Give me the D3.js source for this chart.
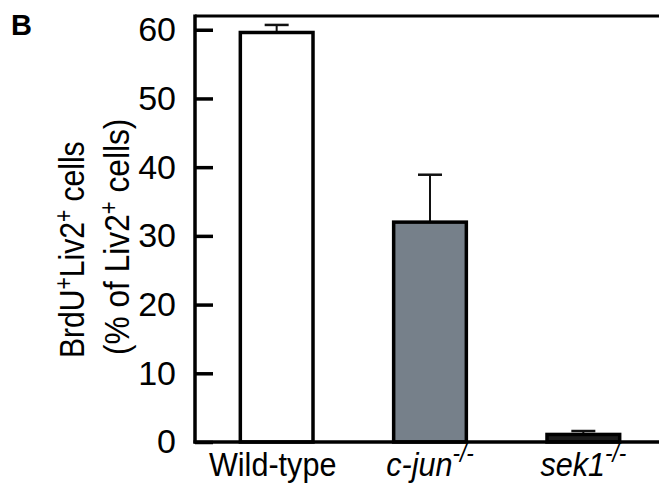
<!DOCTYPE html>
<html>
<head>
    <script src="https://cdnjs.cloudflare.com/ajax/libs/d3/7.8.5/d3.min.js"></script>
    <style>
        body { margin: 0; background: #fff; }
        svg { display: block; font-family: "Liberation Sans", Arial, sans-serif; }
    </style>
</head>
<body>
    <div id="chart"></div>
    <script>
        // data
        const categories = ["Wild-type", "c-jun", "sek1"];
        const values = [59.6, 32.0, 1.1];
        const errors = [1.1, 6.9, 0.5];
        const fills = ["#ffffff", "#76808a", "#1c1c1c"];
        const yTicks = [0, 10, 20, 30, 40, 50, 60];

        const width = 659, height = 485;
        const axisX = 195, axisBottom = 442, axisTop = 16;
        // the original uses a condensed face; squeeze Liberation Sans horizontally
        const squeeze = 0.88;

        const svg = d3.select("#chart").append("svg")
            .attr("width", width)
            .attr("height", height);

        const x = d3.scaleBand()
            .domain(categories)
            .range([200, 660])
            .paddingInner(0.526)
            .paddingOuter(0.263);

        const y = d3.scaleLinear()
            .domain([0, 62])
            .range([axisBottom, axisTop]);

        // y axis: ticks point inward, labels outside
        const yAxis = svg.append("g")
            .attr("transform", `translate(${axisX},0)`)
            .call(d3.axisLeft(y).tickValues(yTicks).tickSizeInner(-18).tickSizeOuter(0).tickPadding(19));
        yAxis.select(".domain").remove();
        yAxis.selectAll(".tick line").attr("stroke", "#000").attr("stroke-width", 3.5);
        yAxis.selectAll(".tick text")
            .attr("font-size", 34)
            .attr("fill", "#000")
            .attr("font-family", "'Liberation Sans', Arial, sans-serif");

        // frame lines
        svg.append("line")
            .attr("x1", axisX).attr("x2", axisX)
            .attr("y1", axisTop - 1.5).attr("y2", axisBottom + 1.5)
            .attr("stroke", "#000").attr("stroke-width", 3.5);
        svg.append("line")
            .attr("x1", axisX).attr("x2", width)
            .attr("y1", axisTop).attr("y2", axisTop)
            .attr("stroke", "#000").attr("stroke-width", 3);

        // error bars (upward only)
        const eb = svg.append("g");
        categories.forEach((c, i) => {
            const cx = x(c) + x.bandwidth() / 2;
            eb.append("line")
                .attr("x1", cx).attr("x2", cx)
                .attr("y1", y(values[i])).attr("y2", y(values[i] + errors[i]))
                .attr("stroke", "#111").attr("stroke-width", 2);
            eb.append("line")
                .attr("x1", cx - 12).attr("x2", cx + 12)
                .attr("y1", y(values[i] + errors[i])).attr("y2", y(values[i] + errors[i]))
                .attr("stroke", "#111").attr("stroke-width", 2.5);
        });

        // bars
        svg.selectAll("rect.bar")
            .data(categories)
            .enter().append("rect")
            .attr("class", "bar")
            .attr("x", d => x(d))
            .attr("y", (d, i) => y(values[i]))
            .attr("width", x.bandwidth())
            .attr("height", (d, i) => y(0) - y(values[i]))
            .attr("fill", (d, i) => fills[i])
            .attr("stroke", "#000")
            .attr("stroke-width", 3.5);

        // bottom axis line
        svg.append("line")
            .attr("x1", axisX - 1.5).attr("x2", width)
            .attr("y1", axisBottom).attr("y2", axisBottom)
            .attr("stroke", "#000").attr("stroke-width", 3.5);

        // category labels
        const labels = svg.append("g").attr("font-size", 34);
        categories.forEach((c, i) => {
            const cx = x(c) + x.bandwidth() / 2 - (i === 0 ? 4 : 0);
            const t = labels.append("text")
                .attr("transform", `translate(${cx},476) scale(0.9,1)`)
                .attr("text-anchor", "middle");
            if (i === 0) {
                t.text(c);
            } else {
                t.append("tspan").attr("font-style", "italic").text(c);
                t.append("tspan").attr("font-style", "italic")
                    .attr("font-size", 25).attr("dy", -14).text("-/-");
            }
        });

        // y axis title, two lines
        const title = svg.append("g").attr("font-size", 36);
        const t1 = title.append("text")
            .attr("transform", `translate(84,358) rotate(-90) scale(${squeeze * 0.95},1)`);
        t1.append("tspan").text("BrdU");
        t1.append("tspan").attr("font-size", 25).attr("dy", -12).text("+");
        t1.append("tspan").attr("dy", 12).text("Liv2");
        t1.append("tspan").attr("font-size", 25).attr("dy", -12).text("+");
        t1.append("tspan").attr("dy", 12).text(" cells");

        const t2 = title.append("text")
            .attr("transform", `translate(129,355) rotate(-90) scale(${squeeze},1)`);
        t2.append("tspan").text("(% of Liv2");
        t2.append("tspan").attr("font-size", 25).attr("dy", -12).text("+");
        t2.append("tspan").attr("dy", 12).text(" cells)");

        // panel letter
        svg.append("text")
            .attr("x", 11).attr("y", 35)
            .attr("font-size", 29)
            .attr("font-weight", "bold")
            .text("B");
    </script>
</body>
</html>
